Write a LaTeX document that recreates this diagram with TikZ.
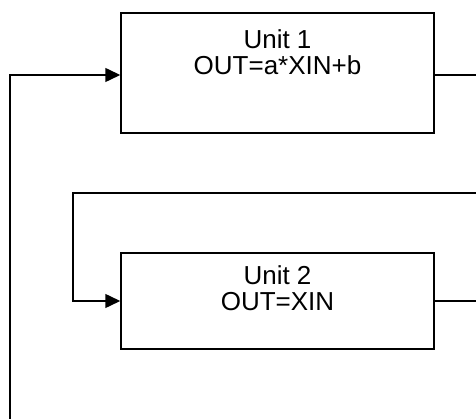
\documentclass[tikz,border=0pt]{standalone}
\usepackage{fontspec}
\setmainfont{Liberation Sans}
\usetikzlibrary{arrows.meta}
\begin{document}
\begin{tikzpicture}[x=1pt,y=1pt,
  unitbox/.style={draw=black, line width=1.5pt, minimum width=313pt, inner sep=0pt},
  wire/.style={draw=black, line width=1.5pt},
  arr/.style={wire, -{Triangle[length=15pt,width=14pt]}},
  lbl/.style={align=center, inner sep=0pt, font=\fontsize{26}{26}\selectfont}]
\useasboundingbox (0,0) rectangle (476,-419);
\node[unitbox, minimum height=120pt] (u1) at (277.5,-73) {};
\node[lbl] (t1) at (277.5,-52) {Unit 1\\OUT=a*XIN+b};
\node[unitbox, minimum height=96pt] (u2) at (277.5,-301) {};
\node[lbl] (t2) at (277.5,-288.5) {Unit 2\\OUT=XIN};
\coordinate (fb) at (10,-419);
\coordinate (o1) at (476,-75);
\coordinate (loopin) at (476,-193);
\coordinate (loopc) at (73,-193);
\coordinate (o2) at (476,-301);
\draw[arr] (fb) |- (u1.west |- o1);
\draw[wire] (u1.east |- o1) -- (o1);
\draw[arr] (loopin) -- (loopc) |- (u2.west);
\draw[wire] (u2.east) -- (o2);
\end{tikzpicture}
\end{document}
